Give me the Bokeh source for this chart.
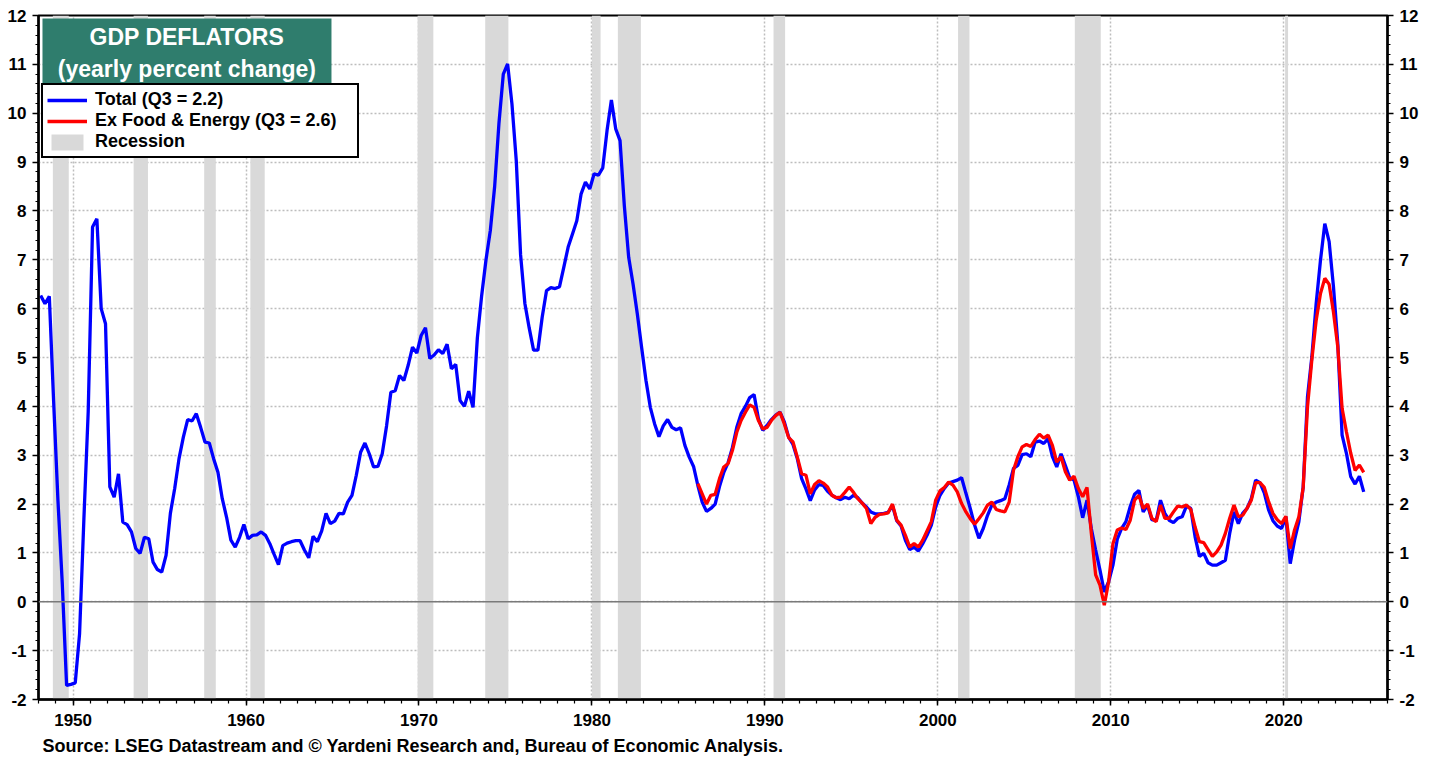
from bokeh.plotting import figure
from bokeh.models import (LinearAxis, SingleIntervalTicker, Span, BoxAnnotation, Label,
                          Legend, LegendItem, Title, Range1d, CustomJSTickFormatter)
from bokeh.embed import file_html
from bokeh.resources import INLINE

# ---------------- data (quarterly, y/y % change) ----------------
total_start_year = 1948
total_yoy = [
    6.27, 6.10, 6.25, 4.10,    # 1948
    2.07, 0.37, -1.71, -1.69,  # 1949
    -1.66, -0.65, 1.70, 3.90,  # 1950
    7.67, 7.84, 6.00, 5.69,    # 1951
    2.35, 2.14, 2.62, 1.63,    # 1952
    1.58, 1.43, 1.09, 0.99,    # 1953
    1.32, 1.29, 0.81, 0.66,    # 1954
    0.61, 0.95, 1.81, 2.32,    # 1955
    2.93, 3.37, 3.73, 3.70,    # 1956
    3.85, 3.57, 3.27, 3.25,    # 1957
    2.93, 2.65, 2.11, 1.73,    # 1958
    1.26, 1.12, 1.32, 1.58,    # 1959
    1.29, 1.36, 1.37, 1.43,    # 1960
    1.36, 1.19, 0.97, 0.76,    # 1961
    1.15, 1.20, 1.23, 1.25,    # 1962
    1.25, 1.06, 0.90, 1.34,    # 1963
    1.23, 1.45, 1.81, 1.60,    # 1964
    1.65, 1.81, 1.80, 2.04,    # 1965
    2.18, 2.59, 3.06, 3.25,    # 1966
    3.03, 2.76, 2.77, 3.03,    # 1967
    3.60, 4.29, 4.32, 4.63,    # 1968
    4.53, 4.84, 5.21, 5.09,    # 1969
    5.45, 5.61, 4.98, 5.05,    # 1970
    5.16, 5.08, 5.27, 4.77,    # 1971
    4.86, 4.12, 4.00, 4.31,    # 1972
    3.98, 5.40, 6.27, 7.00,    # 1973
    7.60, 8.50, 9.80, 10.80,   # 1974
    11.01, 10.19, 9.03, 7.10,  # 1975
    6.10, 5.60, 5.15, 5.15,    # 1976
    5.83, 6.37, 6.43, 6.41,    # 1977
    6.45, 6.85, 7.26, 7.53,    # 1978
    7.80, 8.35, 8.59, 8.45,    # 1979
    8.76, 8.73, 8.88, 9.65,    # 1980
    10.27, 9.68, 9.44, 8.10,   # 1981
    7.05, 6.51, 5.89, 5.20,    # 1982
    4.53, 3.98, 3.64, 3.38,    # 1983
    3.60, 3.73, 3.57, 3.52,    # 1984
    3.56, 3.20, 2.96, 2.77,    # 1985
    2.38, 2.04, 1.85, 1.91,    # 1986
    2.00, 2.36, 2.65, 2.85,    # 1987
    3.16, 3.57, 3.85, 4.00,    # 1988
    4.18, 4.24, 3.75, 3.51,    # 1989
    3.61, 3.73, 3.82, 3.88,    # 1990
    3.68, 3.37, 3.22, 2.93,    # 1991
    2.52, 2.31, 2.07, 2.29,    # 1992
    2.40, 2.38, 2.26, 2.18,    # 1993
    2.13, 2.09, 2.14, 2.11,    # 1994
    2.18, 2.13, 2.02, 1.94,    # 1995
    1.84, 1.80, 1.80, 1.81,    # 1996
    1.83, 1.97, 1.66, 1.55,    # 1997
    1.26, 1.07, 1.12, 1.04,    # 1998
    1.19, 1.36, 1.57, 1.94,    # 1999
    2.18, 2.32, 2.43, 2.46,    # 2000
    2.49, 2.54, 2.22, 1.91,    # 2001
    1.57, 1.30, 1.50, 1.77,    # 2002
    1.98, 2.04, 2.07, 2.11,    # 2003
    2.39, 2.73, 2.79, 3.01,    # 2004
    3.03, 2.97, 3.27, 3.29,    # 2005
    3.24, 3.34, 2.97, 2.76,    # 2006
    3.03, 2.79, 2.54, 2.49,    # 2007
    2.15, 1.72, 2.08, 1.50,    # 2008
    1.06, 0.65, 0.20, 0.41,    # 2009
    0.75, 1.28, 1.50, 1.64,    # 2010
    1.95, 2.20, 2.28, 1.84,    # 2011
    1.98, 1.68, 1.66, 2.08,    # 2012
    1.81, 1.67, 1.62, 1.71,    # 2013
    1.74, 1.96, 1.91, 1.33,    # 2014
    0.93, 0.99, 0.80, 0.75,    # 2015
    0.75, 0.80, 0.85, 1.40,    # 2016
    1.84, 1.60, 1.81, 1.91,    # 2017
    2.11, 2.49, 2.44, 2.23,    # 2018
    1.88, 1.66, 1.55, 1.50,    # 2019
    1.74, 0.78, 1.26, 1.64,    # 2020
    2.35, 4.20, 5.01, 6.10,    # 2021
    6.99, 7.74, 7.37, 6.45,    # 2022
    5.29, 3.41, 3.04, 2.56,    # 2023
    2.41, 2.57, 2.25,          # 2024
]

core_start_year = 1986
core_yoy = [
    2.42, 2.21, 2.00, 2.18,    # 1986
    2.20, 2.52, 2.76, 2.83,    # 1987
    3.10, 3.47, 3.71, 3.88,    # 1988
    4.03, 3.98, 3.71, 3.54,    # 1989
    3.57, 3.71, 3.81, 3.88,    # 1990
    3.64, 3.36, 3.27, 2.96,    # 1991
    2.62, 2.59, 2.21, 2.40,    # 1992
    2.48, 2.43, 2.35, 2.18,    # 1993
    2.13, 2.14, 2.24, 2.35,    # 1994
    2.24, 2.11, 2.02, 1.91,    # 1995
    1.60, 1.73, 1.79, 1.80,    # 1996
    1.82, 2.00, 1.67, 1.57,    # 1997
    1.36, 1.12, 1.19, 1.12,    # 1998
    1.26, 1.45, 1.64, 2.08,    # 1999
    2.27, 2.34, 2.45, 2.39,    # 2000
    2.25, 2.01, 1.84, 1.70,    # 2001
    1.59, 1.70, 1.82, 1.98,    # 2002
    2.04, 1.89, 1.86, 1.84,    # 2003
    2.04, 2.69, 2.97, 3.17,    # 2004
    3.22, 3.18, 3.32, 3.43,    # 2005
    3.35, 3.41, 3.20, 2.86,    # 2006
    2.97, 2.66, 2.49, 2.57,    # 2007
    2.32, 2.15, 2.34, 1.40,    # 2008
    0.55, 0.34, -0.07, 0.41,   # 2009
    1.19, 1.47, 1.51, 1.48,    # 2010
    1.67, 2.08, 2.18, 1.91,    # 2011
    2.00, 1.71, 1.64, 1.98,    # 2012
    1.71, 1.71, 1.84, 1.96,    # 2013
    1.94, 1.98, 1.89, 1.53,    # 2014
    1.23, 1.21, 1.07, 0.93,    # 2015
    1.02, 1.16, 1.40, 1.71,    # 2016
    1.98, 1.74, 1.77, 1.91,    # 2017
    2.08, 2.44, 2.44, 2.34,    # 2018
    2.05, 1.81, 1.68, 1.60,    # 2019
    1.75, 1.09, 1.47, 1.74,    # 2020
    2.34, 3.99, 4.95, 5.76,    # 2021
    6.31, 6.62, 6.50, 5.93,    # 2022
    5.22, 3.96, 3.48, 3.04,    # 2023
    2.69, 2.80, 2.65,          # 2024
]

recession_start = [1948.83, 1953.50, 1957.58, 1960.25, 1969.92, 1973.83,
                   1980.00, 1981.50, 1990.50, 2001.17, 2007.92, 2020.08]
recession_end = [1949.75, 1954.33, 1958.25, 1961.08, 1970.83, 1975.17,
                 1980.50, 1982.83, 1991.17, 2001.83, 2009.42, 2020.25]

total_label = "Total (Q3 = 2.2)"
core_label = "Ex Food & Energy (Q3 = 2.6)"
recession_label = "Recession"
title_line1 = "GDP DEFLATORS"
title_line2 = "(yearly percent change)"
source_text = "Source: LSEG Datastream and \u00a9 Yardeni Research and, Bureau of Economic Analysis."

# quarterly dates plotted at mid-quarter
total_dates = [total_start_year + 0.125 + 0.25 * i for i in range(len(total_yoy))]
core_dates = [core_start_year + 0.125 + 0.25 * i for i in range(len(core_yoy))]

X0, X1 = 1948, 2026
Y0, Y1 = -2, 12
FONT = "Liberation Sans"

p = figure(frame_width=1349, frame_height=684,
           x_range=Range1d(X0, X1), y_range=Range1d(Y0, Y1),
           output_backend="svg", toolbar_location=None,
           min_border_left=38, min_border_right=45, min_border_top=15, min_border_bottom=60,
           background_fill_color="white", border_fill_color="white")
p.outline_line_color = "black"
p.outline_line_width = 2
p.outline_line_alpha = 1.0

# grids
p.xgrid.ticker = SingleIntervalTicker(interval=10)
p.ygrid.ticker = SingleIntervalTicker(interval=1)
for g in (p.xgrid[0], p.ygrid[0]):
    g.grid_line_color = "#bdbdbd"
    g.grid_line_dash = "2 2"
    g.grid_line_width = 1.5

# recession bands
rec = p.quad(left=recession_start, right=recession_end, bottom=Y0, top=Y1,
             fill_color="#d9d9d9", line_color=None)

# zero line
p.add_layout(Span(location=0, dimension="width", line_color="#7a7a7a", line_width=1.5))

r_total = p.line(total_dates, total_yoy, line_color="#0000ff", line_width=3.3)
r_core = p.line(core_dates, core_yoy, line_color="#ff0000", line_width=3.3)

plain_fmt = CustomJSTickFormatter(code="return String(tick);")

# axes
def style_axis(ax):
    ax.axis_line_color = "black"
    ax.axis_line_width = 2.5
    ax.major_tick_line_color = "black"
    ax.minor_tick_line_color = "black"
    ax.major_tick_line_width = 1.5
    ax.minor_tick_line_width = 1.2
    ax.major_tick_in = 0
    ax.minor_tick_in = 0
    ax.major_label_text_font = FONT
    ax.major_label_text_font_style = "bold"
    ax.major_label_text_font_size = "17px"
    ax.major_label_text_color = "black"

xa = p.xaxis[0]
xa.ticker = SingleIntervalTicker(interval=10, num_minor_ticks=10)
style_axis(xa)
xa.major_tick_out = 6
xa.minor_tick_out = 4
xa.major_label_standoff = 8

ya = p.yaxis[0]
ya.ticker = SingleIntervalTicker(interval=1, num_minor_ticks=5)
ya.formatter = plain_fmt
style_axis(ya)
ya.major_tick_out = 6
ya.minor_tick_out = 3
ya.major_label_standoff = 6

yr = LinearAxis(ticker=SingleIntervalTicker(interval=1, num_minor_ticks=5), formatter=plain_fmt)
style_axis(yr)
yr.major_tick_out = 6
yr.minor_tick_out = 3
yr.major_label_standoff = 6
p.add_layout(yr, "right")

# title box
p.add_layout(BoxAnnotation(left=1948.23, right=1964.94, top=11.94, bottom=10.57,
                           fill_color="#2f7d6d", fill_alpha=1.0, line_color=None))
for txt, yy in ((title_line1, 11.57), (title_line2, 10.90)):
    p.add_layout(Label(x=1956.58, y=yy, text=txt, text_align="center", text_baseline="middle",
                       text_color="white", text_font=FONT, text_font_style="bold",
                       text_font_size="23px"))

# legend
legend = Legend(items=[LegendItem(label=total_label, renderers=[r_total]),
                       LegendItem(label=core_label, renderers=[r_core]),
                       LegendItem(label=recession_label, renderers=[rec])],
                location=(3, 541))
legend.border_line_color = "black"
legend.border_line_width = 2
legend.border_line_alpha = 1.0
legend.background_fill_color = "white"
legend.background_fill_alpha = 1.0
legend.label_text_font = FONT
legend.label_text_font_style = "bold"
legend.label_text_font_size = "18px"
legend.label_text_color = "black"
legend.glyph_width = 40
legend.glyph_height = 20
legend.label_height = 20
legend.label_width = 258
legend.label_standoff = 8
legend.spacing = 0
legend.padding = 4
legend.margin = 0
p.add_layout(legend)

# source note
p.add_layout(Title(text=source_text, align="left", offset=4, standoff=10,
                   text_font=FONT, text_font_style="bold", text_font_size="18px",
                   text_color="black"), "below")

open("out.html", "w").write(file_html(p, INLINE))
